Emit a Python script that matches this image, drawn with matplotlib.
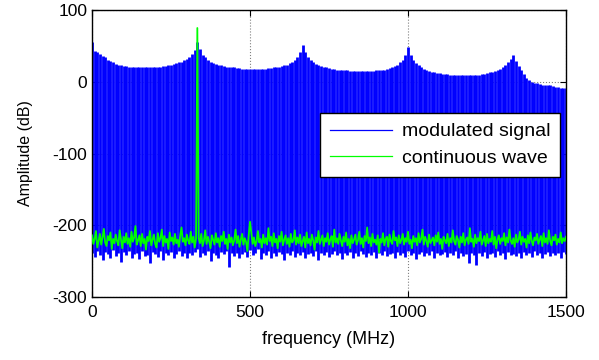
"""
Spectrum of the modulated signal vs. the continuous wave (MATLAB-style look).
"""

import numpy as np
import matplotlib
matplotlib.use('Agg')
import matplotlib.pyplot as plt
from matplotlib.lines import Line2D

plt.rcParams['font.family'] = ['Liberation Sans', 'DejaVu Sans']
plt.rcParams['axes.unicode_minus'] = False

# frequency grid of the modulated signal: 0 .. 1500 MHz, 181 bins
# (harmonics of 333.3 MHz land on bins 40/80/120/160)
freq = np.linspace(0, 1500, 181)

# top of each spectral line of the modulated signal (dB)
mod_peak = [55, 43, 41, 39, 36, 34, 31, 29, 27, 25, 24, 23, 22, 22, 21, 21, 21, 21, 21, 21,
            21, 21, 21, 21, 21, 21, 21, 22, 22, 23, 24, 25, 26, 27, 28, 30, 32, 35, 39, 45,
            55, 46, 38, 34, 31, 28, 26, 25, 24, 23, 22, 21, 21, 20, 20, 19, 19, 18, 18, 18,
            18, 18, 18, 18, 18, 18, 18, 19, 19, 20, 20, 21, 22, 23, 24, 26, 28, 31, 35, 42,
            52, 42, 35, 30, 27, 25, 23, 22, 21, 20, 19, 18, 18, 17, 17, 16, 16, 16, 15, 15,
            15, 15, 15, 15, 15, 15, 15, 15, 16, 16, 17, 17, 18, 19, 20, 22, 24, 27, 31, 38,
            48, 38, 31, 26, 23, 20, 18, 16, 15, 14, 13, 12, 12, 11, 11, 11, 10, 10, 10, 10,
            10, 10, 10, 10, 10, 10, 10, 10, 11, 11, 12, 13, 14, 15, 16, 18, 20, 23, 27, 32,
            37, 29, 22, 16, 11, 6, 2, 0, -1, -2, -3, -4, -4, -5, -5, -6, -7, -7, -8, -8,
            -9]

# bottom (noise floor) of the modulated signal (dB)
mod_floor = [-238, -244, -236, -241, -249, -237, -240, -246, -235, -243, -239, -251, -237, -242, -236, -245,
             -240, -238, -247, -236, -243, -241, -253, -237, -240, -244, -236, -248, -239, -242, -237, -245,
             -240, -236, -243, -239, -246, -238, -241, -237, -233, -244, -239, -242, -236, -250, -238, -241,
             -245, -237, -240, -236, -258, -239, -243, -238, -246, -240, -237, -244, -235, -241, -239, -233,
             -247, -238, -242, -236, -245, -239, -243, -237, -240, -249, -238, -242, -236, -244, -239, -241,
             -237, -246, -240, -238, -243, -236, -248, -239, -241, -237, -244, -240, -236, -242, -239, -247,
             -238, -241, -237, -245, -239, -243, -236, -240, -244, -238, -241, -237, -246, -239, -242, -236,
             -243, -240, -238, -245, -237, -241, -239, -244, -236, -242, -238, -247, -240, -237, -243, -239,
             -241, -236, -245, -238, -242, -240, -237, -244, -239, -241, -236, -246, -238, -243, -240, -252,
             -238, -241, -255, -239, -243, -237, -246, -240, -238, -244, -236, -242, -239, -247, -237, -241,
             -240, -243, -238, -245, -237, -242, -239, -244, -236, -241, -238, -246, -240, -237, -243, -239,
             -242, -238, -245, -237, -240]

# continuous wave on a finer grid (361 bins, carrier at 333.3 MHz = bin 80)
cw_freq = np.linspace(0, 1500, 361)
cw = [-214, -226, -219, -208, -231, -222, -212, -227, -217, -205, -224, -229, -215, -221, -210, -233, -219, -225, -213, -222,
      -228, -207, -220, -232, -216, -224, -211, -226, -218, -230, -209, -223, -217, -201, -227, -221, -214, -229, -212, -225,
      -219, -234, -216, -222, -208, -228, -220, -213, -226, -231, -211, -223, -218, -206, -229, -215, -224, -219, -233, -210,
      -222, -217, -227, -212, -225, -220, -230, -214, -203, -223, -218, -228, -213, -221, -226, -209, -224, -216, -231, -219,
      75, -218, -225, -212, -229, -221, -207, -226, -216, -223, -232, -214, -220, -227, -211, -224, -218, -230, -215, -222,
      -209, -226, -219, -233, -213, -224, -217, -228, -221, -206, -225, -215, -230, -220, -212, -227, -218, -223, -236, -214,
      -195, -210, -226, -217, -229, -222, -208, -224, -219, -231, -213, -225, -218, -227, -204, -222, -216, -229, -211, -224,
      -219, -232, -215, -223, -209, -228, -220, -214, -226, -218, -230, -212, -224, -221, -207, -227, -217, -225, -213, -229,
      -222, -216, -231, -210, -225, -219, -228, -213, -221, -234, -217, -224, -208, -226, -220, -214, -229, -218, -223, -211,
      -227, -220, -215, -230, -206, -224, -218, -226, -212, -221, -229, -216, -223, -210, -228, -219, -232, -214, -225, -220,
      -213, -227, -221, -209, -226, -218, -231, -215, -222, -203, -225, -217, -229, -212, -224, -220, -227, -214, -238, -219,
      -224, -211, -228, -219, -216, -230, -213, -222, -226, -208, -221, -217, -229, -214, -225, -220, -212, -227, -218, -223,
      -209, -226, -220, -232, -215, -223, -218, -228, -211, -224, -219, -206, -227, -216, -222, -230, -213, -225, -221, -217,
      -228, -214, -223, -210, -226, -219, -233, -216, -221, -225, -212, -229, -218, -224, -207, -222, -227, -215, -220, -231,
      -216, -224, -211, -228, -220, -217, -226, -204, -223, -219, -230, -213, -225, -218, -222, -209, -227, -221, -215, -229,
      -212, -225, -219, -223, -208, -227, -216, -232, -220, -214, -226, -218, -222, -211, -228, -217, -224, -206, -221, -226,
      -218, -230, -213, -224, -220, -209, -227, -216, -223, -219, -231, -214, -225, -210, -222, -228, -217, -221, -212, -226,
      -220, -215, -229, -211, -224, -218, -226, -207, -222, -228, -216, -221, -213, -227, -219, -224, -210, -225, -218, -222,
      -216]

fig = plt.figure(figsize=(5.99, 3.6), dpi=100)
ax = fig.add_axes([0.1536, 0.175, 0.7913, 0.797])

# spectral lines of the modulated signal, drawn edge to edge
ax.vlines(freq, mod_floor, mod_peak, colors='#0000ff', linewidth=2.0, zorder=2)
ax.plot(cw_freq, cw, color='#00ff00', linewidth=1.3, zorder=3)

ax.set_xlim(0, 1500)
ax.set_ylim(-300, 100)
ax.set_xticks([0, 500, 1000, 1500])
ax.set_yticks([-300, -200, -100, 0, 100])
ax.tick_params(direction='in', top=True, right=True, labelsize=12.5, length=4, width=0.8)
ax.tick_params(axis='x', pad=6)
ax.grid(True, color='#808080', linestyle=':', linewidth=0.8, zorder=1)
ax.set_axisbelow(True)
for s in ax.spines.values():
    s.set_linewidth(1.0)

ax.set_xlabel('frequency (MHz)', fontsize=13, labelpad=8)
ax.set_ylabel('Amplitude (dB)', fontsize=11.5, labelpad=14)

handles = [Line2D([], [], color='#0000ff', linewidth=0.9),
           Line2D([], [], color='#00ff00', linewidth=0.9)]
leg = ax.legend(handles, ['modulated signal', 'continuous wave'],
                loc='upper right', bbox_to_anchor=(0.987, 0.641), borderaxespad=0,
                fontsize=14, fancybox=False, framealpha=1, edgecolor='black',
                handlelength=3.2, borderpad=0.5, labelspacing=0.45, handletextpad=0.5)
leg.get_frame().set_linewidth(1.0)

plt.savefig('out.png', dpi=100)
plt.close()
